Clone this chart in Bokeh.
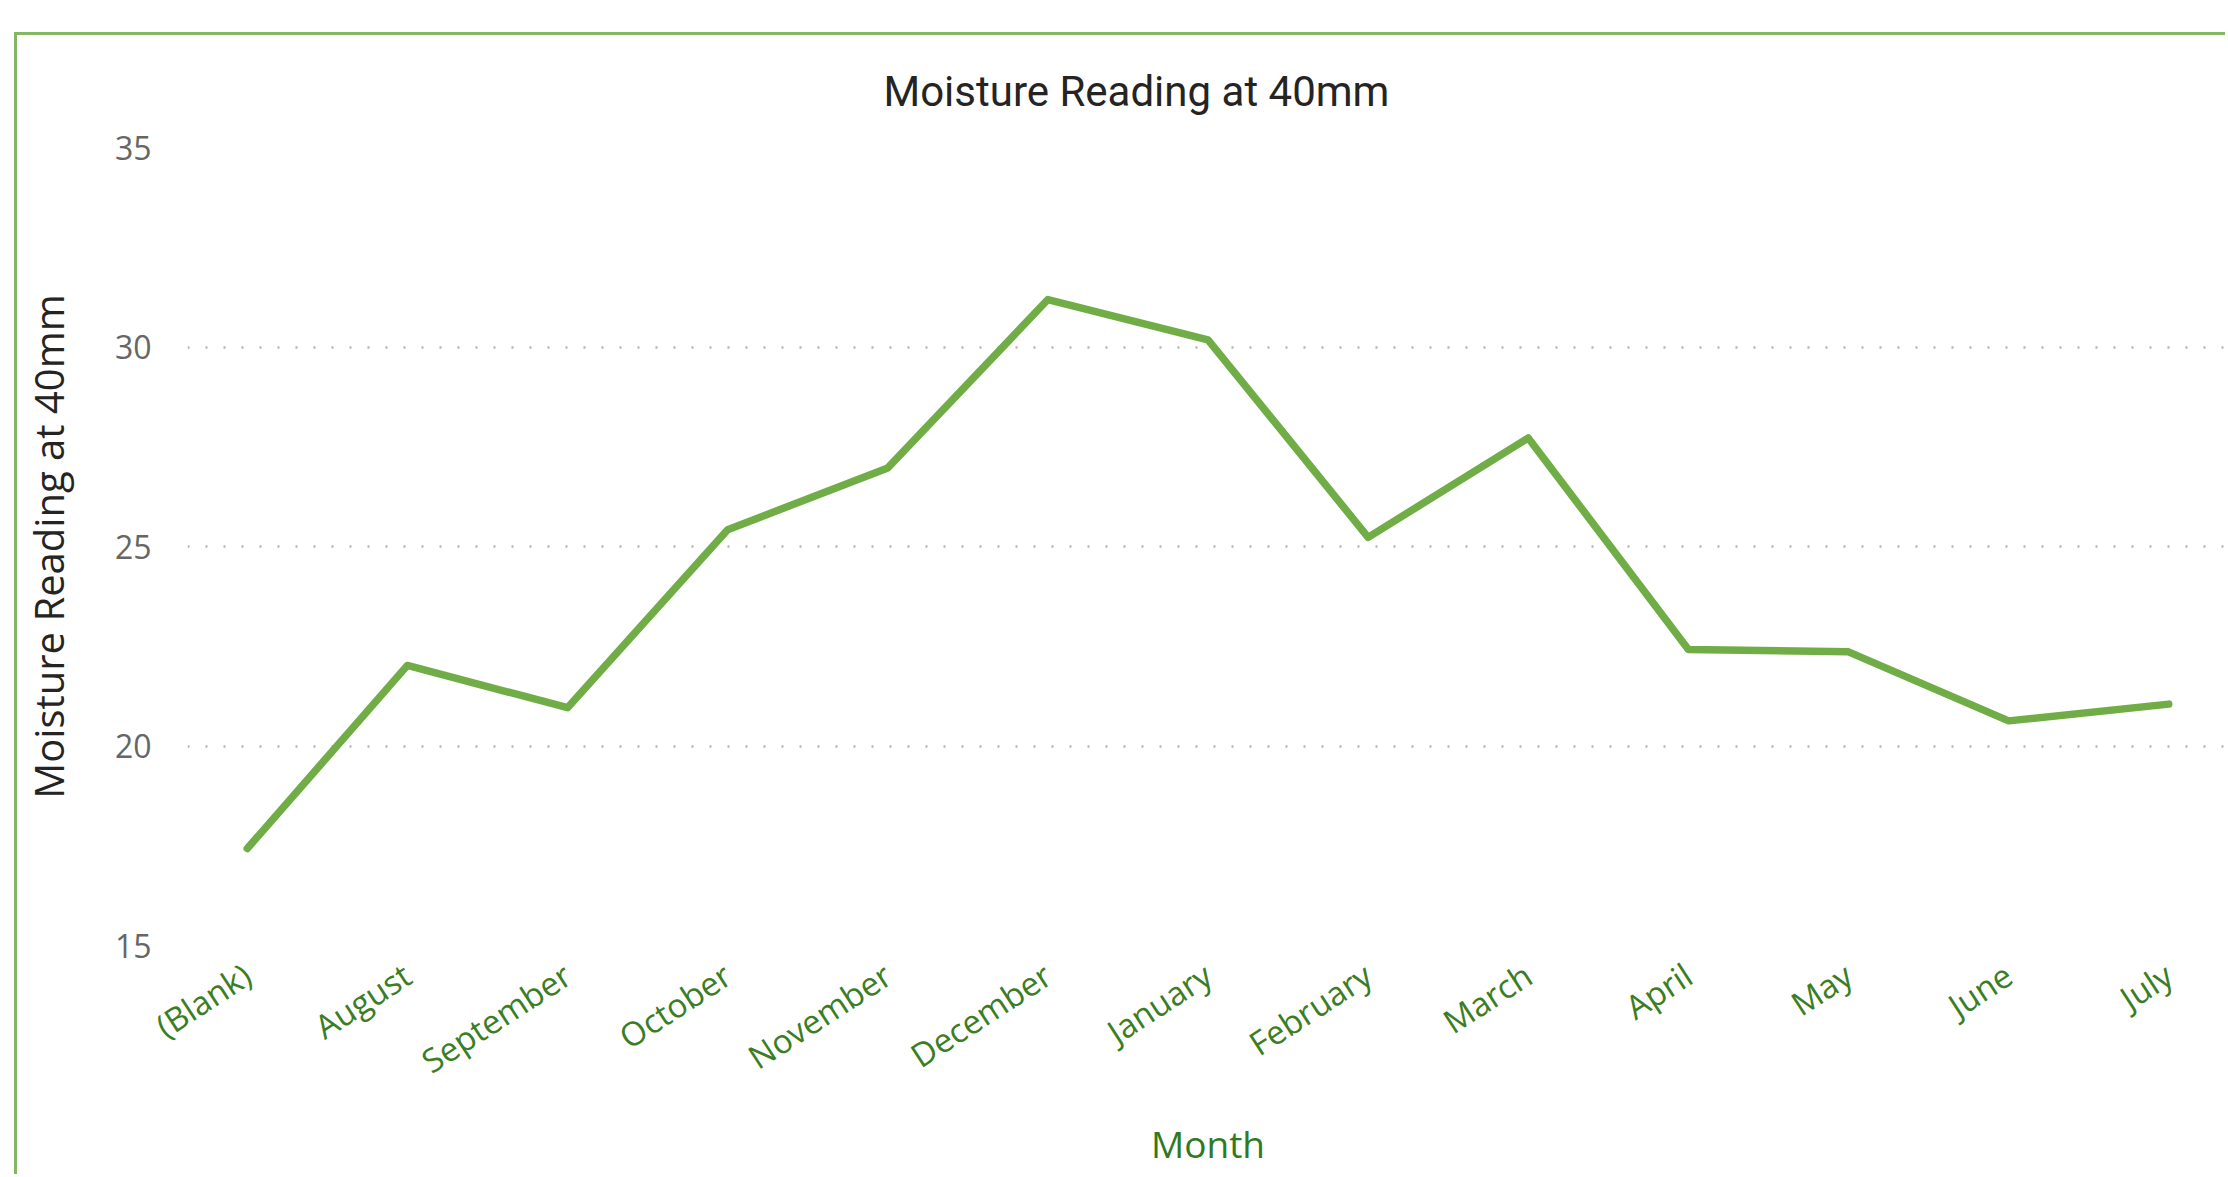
import math
from bokeh.plotting import figure
from bokeh.models import FactorRange, Range1d, FixedTicker
from bokeh.embed import file_html
from bokeh.resources import INLINE

# ---- data ----
months = ["(Blank)", "August", "September", "October", "November", "December",
          "January", "February", "March", "April", "May", "June", "July"]
moisture = [17.43, 22.02, 20.96, 25.42, 26.97, 31.19, 30.18,
            25.23, 27.72, 22.42, 22.36, 20.63, 21.05]
y_ticks = [15, 20, 25, 30, 35]
chart_title = "Moisture Reading at 40mm"
x_axis_title = "Month"
y_axis_title = "Moisture Reading at 40mm"

p = figure(
    width=2211, height=1142,
    output_backend="svg", toolbar_location=None,
    x_range=FactorRange(factors=months, range_padding=-0.0195, range_padding_units="percent"),
    y_range=Range1d(15, 35),
    min_border_left=169, min_border_right=0, min_border_top=112, min_border_bottom=232,
)
p.margin = (32, 0, 0, 14)
p.styles = {"border-left": "3px solid #82b865", "border-top": "3px solid #82b865"}
p.background_fill_color = "white"
p.border_fill_color = "white"
p.outline_line_color = None

# title
p.title.text = chart_title
p.title.align = "left"
p.title.vertical_align = "top"
p.title.offset = 696
p.title.standoff = 59
p.title.text_font = "Roboto"
p.title.text_font_size = "42px"
p.title.text_font_style = "normal"
p.title.text_color = "#252423"

# x axis
xa = p.xaxis[0]
xa.axis_label = x_axis_title
xa.axis_label_text_font = "Open Sans"
xa.axis_label_text_font_size = "37px"
xa.axis_label_text_font_style = "normal"
xa.axis_label_text_color = "#2f7a1f"
xa.axis_label_standoff = 13
xa.major_label_orientation = math.radians(33)
xa.major_label_text_font = "Open Sans"
xa.major_label_text_font_size = "33px"
xa.major_label_text_color = "#3b7d23"
xa.major_label_standoff = 20
xa.axis_line_color = None
xa.major_tick_line_color = None
xa.minor_tick_line_color = None

# y axis
ya = p.yaxis[0]
ya.ticker = FixedTicker(ticks=y_ticks)
ya.axis_label = y_axis_title
ya.axis_label_text_font = "Open Sans"
ya.axis_label_text_font_size = "40px"
ya.axis_label_text_font_style = "normal"
ya.axis_label_text_color = "#252423"
ya.axis_label_standoff = 36
ya.major_label_text_font = "Open Sans"
ya.major_label_text_font_size = "32px"
ya.major_label_text_color = "#666666"
ya.major_label_standoff = 30
ya.axis_line_color = None
ya.major_tick_line_color = None
ya.minor_tick_line_color = None

p.xgrid.grid_line_color = None
p.ygrid.grid_line_color = "#b4b4b4"
p.ygrid.grid_line_dash = "2 16"
p.ygrid.grid_line_width = 2.5

p.line(months, moisture, line_color="#70ad47", line_width=7.5,
       line_cap="round", line_join="round")

open("out.html", "w").write(file_html(p, INLINE))
